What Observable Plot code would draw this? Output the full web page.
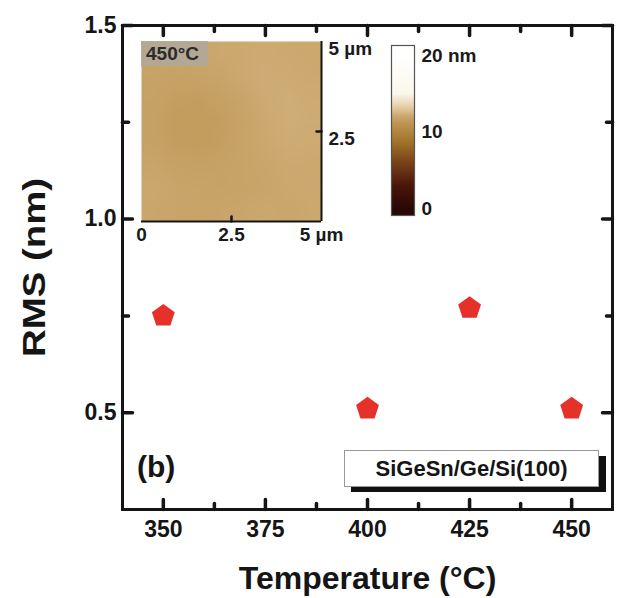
<!DOCTYPE html>
<html>
<head>
<meta charset="utf-8">
<script src="https://cdn.jsdelivr.net/npm/d3@7"></script>
<script src="https://cdn.jsdelivr.net/npm/@observablehq/plot@0.6"></script>
<style>
  html, body { margin: 0; padding: 0; background: white; }
  #wrap { position: relative; width: 624px; height: 598px; font-family: "Liberation Sans", Arial, sans-serif; font-weight: bold; color: #151515; }
  #wrap svg { overflow: visible; }
  .abs { position: absolute; }
  #main g[aria-label="x-axis tick label"] text, #main g[aria-label="y-axis tick label"] text { font-size: 23px; }
  #main g[aria-label="x-axis label"] text, #main g[aria-label="y-axis label"] text { font-size: 32px; }
  #inset g[aria-label="x-axis tick label"] text, #inset g[aria-label="y-axis tick label"] text { font-size: 19px; }
  #cbar g[aria-label="y-axis tick label"] text { font-size: 19px; }
</style>
</head>
<body>
<div id="wrap"></div>
<script>
// ---- data ----
const temps = [350, 400, 425, 450];
const rms = [0.75, 0.51, 0.77, 0.51];
const xMajor = [350, 375, 400, 425, 450];
const xMinor = [362.5, 387.5, 412.5, 437.5];
const yMajor = [0.5, 1.0, 1.5];
const yMinor = [0.75, 1.25];
// AFM inset heights (nm), coarse 8x8 grid, top row first
const afmRows = [
  [11.9, 11.95, 12.0, 12.05, 12.1, 12.15, 12.1, 12.05],
  [11.85, 11.8, 11.85, 11.95, 12.1, 12.2, 12.15, 12.1],
  [11.8, 11.65, 11.6, 11.75, 11.95, 12.15, 12.25, 12.15],
  [11.75, 11.55, 11.5, 11.6, 11.85, 12.1, 12.25, 12.2],
  [11.8, 11.6, 11.55, 11.65, 11.9, 12.05, 12.2, 12.15],
  [11.95, 11.8, 11.75, 11.8, 11.9, 12.0, 12.1, 12.05],
  [12.05, 11.95, 11.9, 11.85, 11.9, 11.95, 12.05, 12.1],
  [12.0, 11.95, 11.9, 11.95, 12.0, 12.05, 12.0, 12.05]
];
const insetXTicks = [0, 2.5, 5];
const insetXLabels = ["0", "2.5", "5 µm"];
const insetYTicks = [2.5, 5];
const insetYLabels = ["2.5", "5 µm"];
const insetMinorTicks = [2.5];
const cbarStops = [0, 3, 6, 9, 11, 12, 13.5, 15, 20];
const cbarColors = ["#2a0805", "#4a160b", "#7a4218", "#a5782e", "#bb9350", "#caa66c", "#e7d4ad", "#fbf7ec", "#ffffff"];
const cbarTicks = [0, 10, 20];
const cbarLabels = ["0", "10", "20 nm"];
const sampleLabel = "SiGeSn/Ge/Si(100)";
const panelLabel = "(b)";
const insetTitle = "450°C";

// ---- helpers ----
const cmap = d3.scaleLinear().domain(cbarStops).range(cbarColors).clamp(true);
const colorScale = {type: "linear", domain: [0, 20], interpolate: t => cmap(t * 20)};
const pentagon = {
  draw(context, size) {
    const r = Math.sqrt(size / Math.PI);
    for (let k = 0; k < 5; ++k) {
      const a = -Math.PI / 2 + k * 2 * Math.PI / 5;
      const px = r * Math.cos(a), py = r * Math.sin(a);
      if (k === 0) context.moveTo(px, py); else context.lineTo(px, py);
    }
    context.closePath();
  }
};
// inward tick "symbols": a line segment of length r from the anchor point
const tickSym = (ux, uy) => ({
  draw(context, size) {
    const r = Math.sqrt(size / Math.PI);
    context.moveTo(0, 0);
    context.lineTo(ux * r, uy * r);
  }
});
const UP = tickSym(0, -1), DOWN = tickSym(0, 1), LEFT = tickSym(-1, 0), RIGHT = tickSym(1, 0);
const font = "Liberation Sans, Arial, sans-serif";
const points = temps.map((t, i) => ({t, v: rms[i]}));
const ink = "#151515";
const tickMarks = (vals, dim, anchor, sym, len, sw) =>
  Plot.dot(vals, {[dim]: d => d, frameAnchor: anchor, symbol: sym, r: len, fill: "none", stroke: ink, strokeWidth: sw, strokeLinecap: "round"});

// ---- main chart ----
const main = Plot.plot({
  width: 624, height: 598,
  marginLeft: 122, marginRight: 12, marginTop: 25, marginBottom: 89,
  x: {domain: [340, 460]},
  y: {domain: [0.25, 1.5]},
  style: {background: "white", fontFamily: font, fontWeight: "bold", color: ink, overflow: "visible"},
  marks: [
    Plot.frame({stroke: ink, strokeWidth: 3}),
    tickMarks(xMajor, "x", "bottom", UP, 10, 3.5),
    tickMarks(xMinor, "x", "bottom", UP, 6, 3.5),
    tickMarks(xMajor, "x", "top", DOWN, 10, 3.5),
    tickMarks(xMinor, "x", "top", DOWN, 6, 3.5),
    tickMarks(yMajor, "y", "left", RIGHT, 10, 3.5),
    tickMarks(yMinor, "y", "left", RIGHT, 6, 3.5),
    tickMarks(yMajor, "y", "right", LEFT, 10, 3.5),
    tickMarks(yMinor, "y", "right", LEFT, 6, 3.5),
    Plot.axisX({ticks: xMajor, tickSize: 0, tickPadding: 11, tickFormat: d => String(d),
      label: "Temperature (°C)", labelAnchor: "center", labelArrow: "none", labelOffset: 79}),
    Plot.axisY({ticks: yMajor, tickSize: 0, tickPadding: 6, tickFormat: d3.format(".1f"),
      label: "RMS (nm)", labelAnchor: "center", labelArrow: "none", labelOffset: 100}),
    Plot.dot(points, {x: "t", y: "v", symbol: pentagon, r: 12, fill: "#e6302a", stroke: "none"})
  ]
});
main.id = "main";
main.classList.add("abs");
main.style.left = "0px"; main.style.top = "0px";

// ---- AFM inset ----
const inset = Plot.plot({
  width: 240, height: 212,
  marginLeft: 0, marginTop: 0, marginRight: 60, marginBottom: 32,
  x: {domain: [0, 5]},
  y: {domain: [0, 5]},
  color: colorScale,
  style: {background: "transparent", fontFamily: font, fontWeight: "bold", color: "#1a1a1a", overflow: "visible"},
  marks: [
    Plot.raster(afmRows.flat(), {width: 8, height: 8, x1: 0, y1: 5, x2: 5, y2: 0}),
    Plot.ruleY([0], {stroke: ink, strokeWidth: 2}),
    Plot.ruleX([5], {stroke: ink, strokeWidth: 2}),
    tickMarks(insetMinorTicks, "x", "bottom", UP, 5, 2.5),
    tickMarks(insetMinorTicks, "y", "right", LEFT, 5, 2.5),
    Plot.axisX({ticks: insetXTicks, tickSize: 0, tickPadding: 6,
      tickFormat: d => insetXLabels[insetXTicks.indexOf(d)], label: null}),
    Plot.axisY({anchor: "right", ticks: insetYTicks, tickSize: 0, tickPadding: 7, dy: 7,
      tickFormat: d => insetYLabels[insetYTicks.indexOf(d)], label: null})
  ]
});
inset.id = "inset";
inset.classList.add("abs");
inset.style.left = "141px"; inset.style.top = "41px";

// ---- colour bar ----
const cbar = Plot.plot({
  width: 110, height: 170,
  marginLeft: 0, marginTop: 0, marginRight: 87, marginBottom: 0,
  x: {domain: [0, 1], axis: null},
  y: {domain: [-0.9, 21.3]},
  color: colorScale,
  style: {background: "transparent", fontFamily: font, fontWeight: "bold", color: "#1a1a1a", overflow: "visible"},
  marks: [
    Plot.raster({x1: 0, x2: 1, y1: -0.9, y2: 21.3, width: 1, height: 200, fill: (x, y) => y}),
    Plot.frame({stroke: "#555", strokeWidth: 1.2}),
    Plot.axisY({anchor: "right", ticks: cbarTicks, tickSize: 0, tickPadding: 7,
      tickFormat: d => cbarLabels[cbarTicks.indexOf(d)], label: null})
  ]
});
cbar.id = "cbar";
cbar.classList.add("abs");
cbar.style.left = "391px"; cbar.style.top = "45px";

// ---- assemble ----
const wrap = document.getElementById("wrap");
wrap.append(main, inset, cbar);

// stretch y-axis title along its length as in the reference
const yl = main.querySelector('g[aria-label="y-axis label"] text');
if (yl) yl.setAttribute("transform", (yl.getAttribute("transform") || "") + " scale(1.2,1)");

// inset title tag
const tag = document.createElement("div");
tag.className = "abs";
Object.assign(tag.style, {left: "141px", top: "41px", width: "67px", height: "25px", background: "rgba(178,168,152,0.92)",
  fontSize: "19px", lineHeight: "25px", paddingLeft: "5px", boxSizing: "border-box", color: "#2b2b2b"});
tag.textContent = insetTitle;
wrap.append(tag);

// panel label
const pl = document.createElement("div");
pl.className = "abs";
Object.assign(pl.style, {left: "137px", top: "447px", fontSize: "30px", lineHeight: "40px"});
pl.textContent = panelLabel;
wrap.append(pl);

// sample legend box with shadow
const shadow = document.createElement("div");
shadow.className = "abs";
Object.assign(shadow.style, {left: "351px", top: "456px", width: "255px", height: "36px", background: "#111"});
const box = document.createElement("div");
box.className = "abs";
Object.assign(box.style, {left: "344px", top: "450px", width: "255px", height: "37px", background: "white",
  border: "1px solid #999", boxSizing: "border-box", textAlign: "center", fontSize: "22px", lineHeight: "35px"});
box.textContent = sampleLabel;
wrap.append(shadow, box);
</script>
</body>
</html>
